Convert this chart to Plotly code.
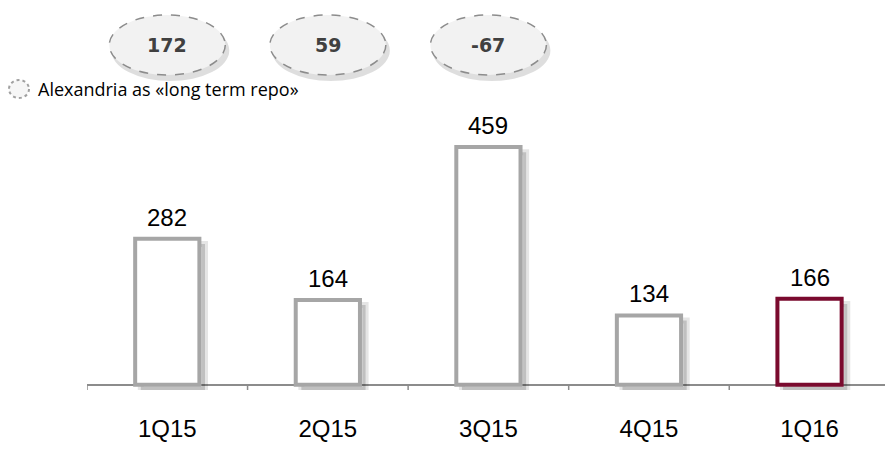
import plotly.graph_objects as go

categories = ["1Q15", "2Q15", "3Q15", "4Q15", "1Q16"]
values = [282, 164, 459, 134, 166]
border_colors = ["#a6a6a6", "#a6a6a6", "#a6a6a6", "#a6a6a6", "#7a0a2e"]
oval_values = ["172", "59", "-67"]
legend_text = "Alexandria as «long term repo»"

xs = list(range(len(categories)))
BW = 0.4

fig = go.Figure()

# soft shadows
fig.add_trace(go.Bar(
    x=xs, y=values, base=[-10] * len(values), width=BW, offset=-BW / 2 + 0.035,
    marker=dict(color="rgba(0,0,0,0.16)", line=dict(width=6, color="rgba(0,0,0,0.10)")),
    hoverinfo="skip", showlegend=False))

# main bars
fig.add_trace(go.Bar(
    x=xs, y=values, width=BW,
    marker=dict(color="white", line=dict(width=4, color=border_colors)),
    showlegend=False))

annotations = []
for i, v in enumerate(values):
    annotations.append(dict(x=i, y=v, xref="x", yref="y", text=str(v), showarrow=False,
                            xanchor="center", yanchor="bottom", yshift=6,
                            font=dict(family="Liberation Sans, Arial", size=24, color="#000000")))

shapes = []
# tick marks at category boundaries
for i in range(len(categories) + 1):
    shapes.append(dict(type="line", xref="x", yref="y", ysizemode="pixel", yanchor=0,
                       x0=i - 0.5, x1=i - 0.5, y0=0, y1=-7,
                       line=dict(color="#8c8c8c", width=1.5)))

# ovals
oval_y = (390 - 45) / 390
for i, t in enumerate(oval_values):
    shapes.append(dict(type="circle", xref="x", yref="paper", xsizemode="pixel", ysizemode="pixel",
                       xanchor=i, yanchor=oval_y, x0=-56, x1=62, y0=-36, y1=25,
                       fillcolor="rgba(0,0,0,0.13)", line=dict(width=0), layer="above"))
    shapes.append(dict(type="circle", xref="x", yref="paper", xsizemode="pixel", ysizemode="pixel",
                       xanchor=i, yanchor=oval_y, x0=-58, x1=58, y0=-30, y1=30,
                       fillcolor="#f2f2f2", line=dict(color="#8c8c8c", width=1.5, dash="dash"),
                       layer="above"))
    annotations.append(dict(x=i, y=oval_y, xref="x", yref="paper", text="<b>%s</b>" % t,
                            showarrow=False, xanchor="center", yanchor="middle",
                            font=dict(family="DejaVu Sans, Verdana", size=19, color="#404040")))

# legend icon
shapes.append(dict(type="circle", xref="paper", yref="paper", xsizemode="pixel", ysizemode="pixel",
                   xanchor=(19 - 87) / 798, yanchor=(390 - 89) / 390, x0=-10, x1=10, y0=-9, y1=9,
                   fillcolor="#f6f6f6", line=dict(color="#a0a0a0", width=2, dash="dot")))
annotations.append(dict(x=(36 - 87) / 798, y=(390 - 89) / 390, xref="paper", yref="paper",
                        text=legend_text, showarrow=False, xanchor="left", yanchor="middle",
                        font=dict(family="Open Sans, Lato", size=18, color="#000000")))

fig.update_layout(
    width=885, height=463,
    margin=dict(l=87, r=0, t=0, b=73),
    paper_bgcolor="white", plot_bgcolor="white",
    barmode="overlay",
    shapes=shapes, annotations=annotations,
    xaxis=dict(tickmode="array", tickvals=xs, ticktext=categories, range=[-0.5, 4.47],
               showline=False, showgrid=False, zeroline=False, ticks="",
               ticklabelstandoff=22,
               tickfont=dict(family="Liberation Sans, Arial", size=24, color="#000000")),
    yaxis=dict(range=[-10, 743], showticklabels=False, ticks="", showgrid=False, showline=False,
               zeroline=True, zerolinecolor="#8c8c8c", zerolinewidth=1.5),
    font=dict(family="Liberation Sans, Arial"),
)

fig.write_html("out.html")
